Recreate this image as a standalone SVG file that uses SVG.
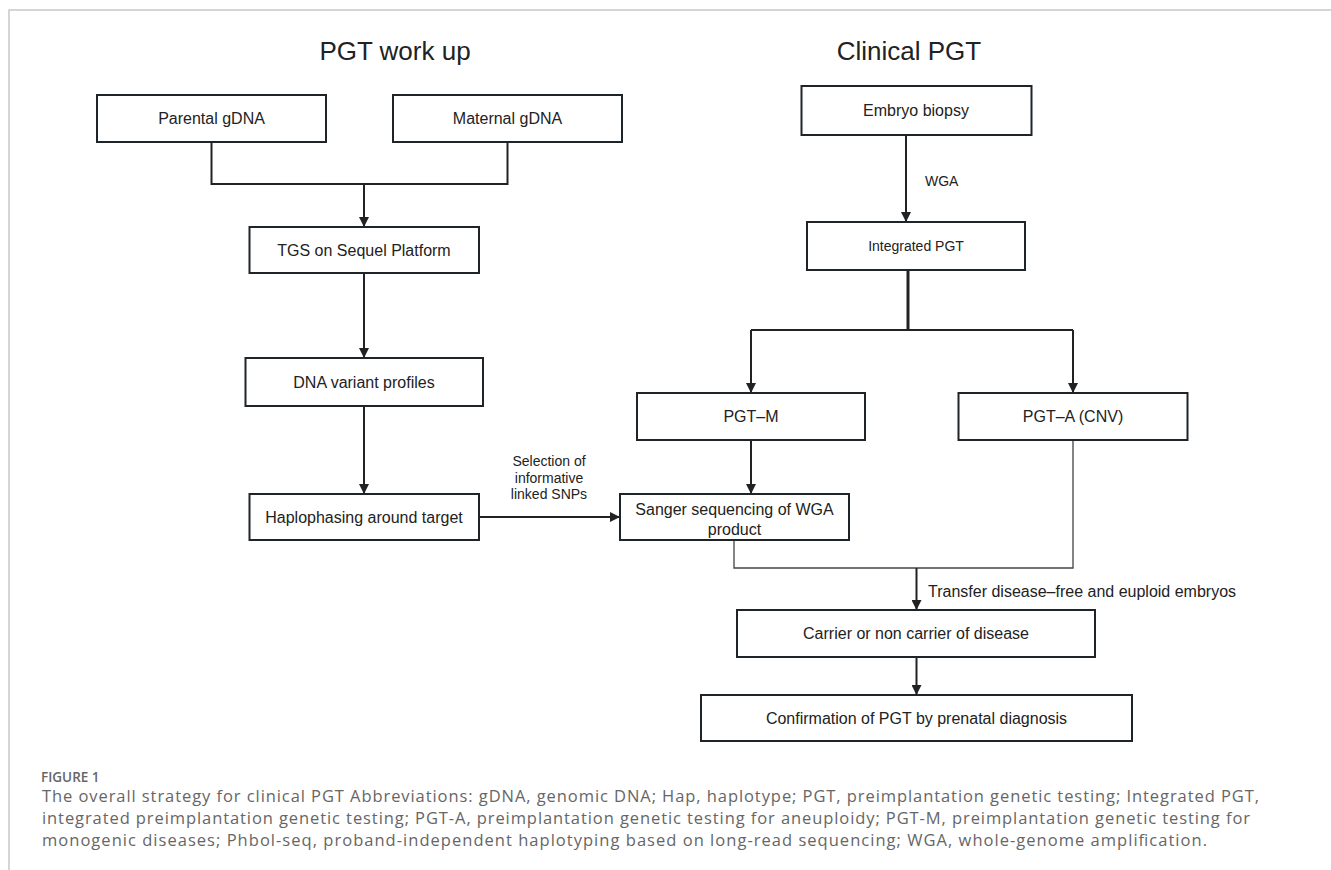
<svg xmlns="http://www.w3.org/2000/svg" width="1331" height="870" viewBox="0 0 1331 870">
<defs>
<marker id="ah" viewBox="0 0 10 10" refX="10" refY="5" markerWidth="10" markerHeight="10" markerUnits="userSpaceOnUse" orient="auto">
<path d="M0,0 L10,5 L0,10 z" fill="#222"/>
</marker>
<style>
.box{fill:#fff;stroke:#1f2428;stroke-width:2}
.t{font-family:"Liberation Sans",Arial,sans-serif;font-size:16px;fill:#222;text-anchor:middle}
.s{font-family:"Liberation Sans",Arial,sans-serif;font-size:14px;fill:#222}
.title{font-family:"Liberation Sans",Arial,sans-serif;font-size:26px;fill:#222;text-anchor:middle}
.c{fill:none;stroke:#222;stroke-width:2}
.thin{fill:none;stroke:#444;stroke-width:1.3}
.cap{font-family:"Open Sans",sans-serif;font-size:16.5px;fill:#666}
</style>
</defs>
<rect width="1331" height="870" fill="#fff"/>
<path d="M9,870 V10 H1331" fill="none" stroke="#c8c8c8" stroke-width="1.5"/>

<text class="title" x="395" y="60">PGT work up</text>
<text class="title" x="909" y="60">Clinical PGT</text>

<g id="connectors">
<path class="c" d="M211.5,142 V184 H507.5 V142"/>
<path class="c" d="M364,184 V227" marker-end="url(#ah)"/>
<path class="c" d="M364,273 V358" marker-end="url(#ah)"/>
<path class="c" d="M364,406 V494" marker-end="url(#ah)"/>
<path class="c" d="M479,517 H620" marker-end="url(#ah)"/>
<path class="c" d="M906,135 V222" marker-end="url(#ah)"/>
<path fill="none" stroke="#222" stroke-width="3" d="M908,270 V330"/>
<path class="c" d="M751,330 H1073"/>
<path class="c" d="M751,330 V393" marker-end="url(#ah)"/>
<path class="c" d="M1073,330 V393" marker-end="url(#ah)"/>
<path class="c" d="M751,440 V494" marker-end="url(#ah)"/>
<path class="thin" d="M734,540 V568 H1073 V440"/>
<path class="c" d="M916.5,568 V610" marker-end="url(#ah)"/>
<path class="c" d="M916.5,657 V695" marker-end="url(#ah)"/>
<text class="s" x="549" y="466" text-anchor="middle">Selection of</text>
<text class="s" x="549" y="483" text-anchor="middle">informative</text>
<text class="s" x="549" y="499" text-anchor="middle">linked SNPs</text>
<text class="s" x="925" y="186">WGA</text>
<text class="t" x="928" y="597" style="text-anchor:start">Transfer disease–free and euploid embryos</text>
</g>

<g id="parental"><rect class="box" x="97" y="95" width="229" height="47"/><text class="t" x="211.5" y="124">Parental gDNA</text></g>
<g id="maternal"><rect class="box" x="393" y="95" width="229" height="47"/><text class="t" x="507.5" y="124">Maternal gDNA</text></g>
<g id="tgs"><rect class="box" x="249.5" y="227" width="229.5" height="46"/><text class="t" x="364" y="256">TGS on Sequel Platform</text></g>
<g id="dna"><rect class="box" x="245.5" y="358" width="237.5" height="48"/><text class="t" x="364" y="388">DNA variant profiles</text></g>
<g id="haplo"><rect class="box" x="249.5" y="494" width="229.5" height="46"/><text class="t" x="364" y="523">Haplophasing around target</text></g>
<g id="sanger"><rect class="box" x="620" y="494" width="229" height="46"/><text class="t" x="734.5" y="515">Sanger sequencing of WGA</text><text class="t" x="734.5" y="535">product</text></g>
<g id="embryo"><rect class="box" x="801.5" y="86" width="230" height="49"/><text class="t" x="916" y="116">Embryo biopsy</text></g>
<g id="integrated"><rect class="box" x="807" y="222" width="218" height="48"/><text class="t" x="916" y="251" style="font-size:14px">Integrated PGT</text></g>
<g id="pgtm"><rect class="box" x="637" y="393" width="228" height="47"/><text class="t" x="751" y="422">PGT–M</text></g>
<g id="pgta"><rect class="box" x="958.5" y="393" width="229" height="47"/><text class="t" x="1073" y="422">PGT–A (CNV)</text></g>
<g id="carrier"><rect class="box" x="737" y="610" width="358" height="47"/><text class="t" x="916" y="639">Carrier or non carrier of disease</text></g>
<g id="confirm"><rect class="box" x="701" y="695" width="431" height="46"/><text class="t" x="916.5" y="724">Confirmation of PGT by prenatal diagnosis</text></g>

<text x="41" y="782" style="font-family:'Open Sans',sans-serif;font-size:13.5px;font-weight:600;fill:#666">FIGURE 1</text>
<text class="cap" x="42" y="802" textLength="1217" lengthAdjust="spacing">The overall strategy for clinical PGT Abbreviations: gDNA, genomic DNA; Hap, haplotype; PGT, preimplantation genetic testing; Integrated PGT,</text>
<text class="cap" x="42" y="824" textLength="1208" lengthAdjust="spacing">integrated preimplantation genetic testing; PGT-A, preimplantation genetic testing for aneuploidy; PGT-M, preimplantation genetic testing for</text>
<text class="cap" x="42" y="846" textLength="1165" lengthAdjust="spacing">monogenic diseases; Phbol-seq, proband-independent haplotyping based on long-read sequencing; WGA, whole-genome amplification.</text>
</svg>
